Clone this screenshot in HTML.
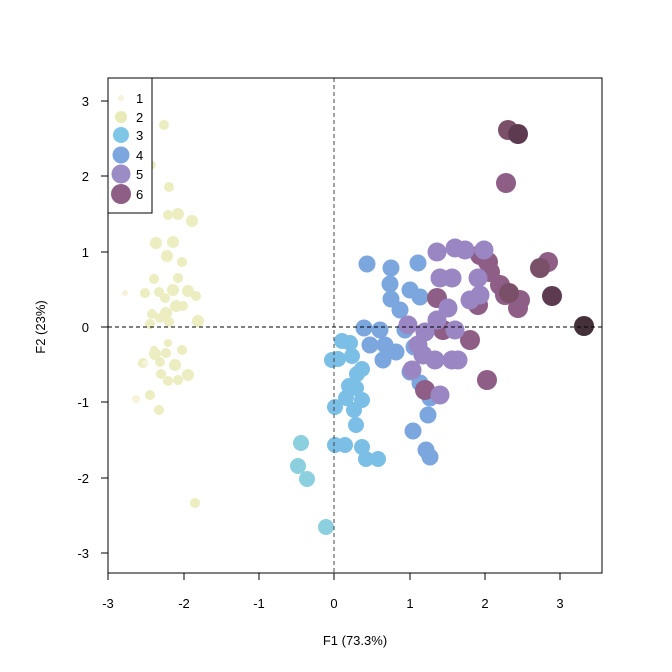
<!DOCTYPE html>
<html><head><meta charset="utf-8"><style>body{margin:0;background:#fff}svg{display:block}text{font-family:"Liberation Sans",sans-serif;font-size:13px;fill:#000}</style></head><body>
<svg width="672" height="672" viewBox="0 0 672 672" xmlns="http://www.w3.org/2000/svg">
<rect width="672" height="672" fill="#fff"/>
<g fill="#ecedc0">
<circle cx="164" cy="125" r="5"/><circle cx="152" cy="165" r="4"/><circle cx="169" cy="187" r="5"/><circle cx="168" cy="215" r="5"/><circle cx="178" cy="214" r="6"/><circle cx="192" cy="221" r="6"/><circle cx="156" cy="243" r="6"/><circle cx="173" cy="242" r="6"/><circle cx="167" cy="256" r="6"/><circle cx="182" cy="262" r="5"/><circle cx="154" cy="279" r="5"/><circle cx="145" cy="293" r="5"/><circle cx="178" cy="278" r="5"/><circle cx="188" cy="291" r="6"/><circle cx="159" cy="292" r="5"/><circle cx="173" cy="290" r="6"/><circle cx="196" cy="296" r="5"/><circle cx="165" cy="298" r="5"/><circle cx="176" cy="306" r="6"/><circle cx="183" cy="306" r="5"/><circle cx="152" cy="314" r="5"/><circle cx="166" cy="313" r="6"/><circle cx="160" cy="318" r="5"/><circle cx="198" cy="321" r="6"/><circle cx="150" cy="324" r="5"/><circle cx="169" cy="322" r="5"/><circle cx="168" cy="343" r="4"/><circle cx="155" cy="354" r="6"/><circle cx="166" cy="353" r="5"/><circle cx="160" cy="362" r="5"/><circle cx="182" cy="350" r="5"/><circle cx="175" cy="365" r="6"/><circle cx="143" cy="363" r="5"/><circle cx="161" cy="374" r="5"/><circle cx="168" cy="381" r="5"/><circle cx="188" cy="375" r="6"/><circle cx="178" cy="380" r="5"/><circle cx="150" cy="395" r="5"/><circle cx="159" cy="410" r="5"/><circle cx="195" cy="503" r="5"/><circle cx="154" cy="350" r="4"/>
</g>
<g fill="#f6f3da"><circle cx="125" cy="293" r="3"/><circle cx="136" cy="399" r="4"/><circle cx="145" cy="363" r="3"/></g>
<g fill="#8ccfdf">
<circle cx="326" cy="527" r="8"/><circle cx="307" cy="479" r="8"/><circle cx="298" cy="466" r="8"/><circle cx="301" cy="443" r="8"/>
</g>
<g fill="#7cbfe6">
<circle cx="342" cy="341" r="8"/><circle cx="350" cy="343" r="8"/><circle cx="338" cy="359" r="8"/><circle cx="352" cy="356" r="8"/><circle cx="332" cy="360" r="8"/><circle cx="357" cy="374" r="8"/><circle cx="362" cy="369" r="8"/><circle cx="349" cy="386" r="8"/><circle cx="346" cy="398" r="8"/><circle cx="356" cy="388" r="8"/><circle cx="335" cy="407" r="8"/><circle cx="354" cy="410" r="8"/><circle cx="362" cy="400" r="8"/><circle cx="356" cy="425" r="8"/><circle cx="335" cy="445" r="8"/><circle cx="345" cy="445" r="8"/><circle cx="362" cy="447" r="8"/><circle cx="366" cy="459" r="8"/><circle cx="378" cy="459" r="8"/>
</g>
<g fill="#7ba6de">
<circle cx="367" cy="264" r="8.5"/><circle cx="391" cy="268" r="8.5"/><circle cx="418" cy="263" r="8.5"/><circle cx="390" cy="284" r="8.5"/><circle cx="410" cy="290" r="8.5"/><circle cx="391" cy="299" r="8.5"/><circle cx="420" cy="297" r="8.5"/><circle cx="400" cy="310" r="8.5"/><circle cx="380" cy="330" r="8.5"/><circle cx="405" cy="330" r="8.5"/><circle cx="370" cy="345" r="8.5"/><circle cx="385" cy="345" r="8.5"/><circle cx="383" cy="360" r="8.5"/><circle cx="414" cy="347" r="8.5"/><circle cx="396" cy="352" r="8.5"/><circle cx="410" cy="372" r="8.5"/><circle cx="420" cy="383" r="8.5"/><circle cx="430" cy="398" r="8.5"/><circle cx="428" cy="415" r="8.5"/><circle cx="413" cy="431" r="8.5"/><circle cx="426" cy="450" r="8.5"/><circle cx="430" cy="457" r="8.5"/><circle cx="364" cy="328" r="8.5"/>
</g>
<g fill="#8e5e86">
<circle cx="506" cy="183" r="10"/><circle cx="548" cy="262" r="10"/><circle cx="480" cy="255" r="10"/><circle cx="488" cy="262" r="10"/><circle cx="490" cy="272" r="10"/><circle cx="500" cy="285" r="10"/><circle cx="478" cy="305" r="10"/><circle cx="505" cy="295" r="10"/><circle cx="520" cy="300" r="10"/><circle cx="487" cy="380" r="10"/><circle cx="425" cy="390" r="10"/><circle cx="470" cy="340" r="10"/><circle cx="443" cy="330" r="10"/><circle cx="518" cy="308" r="10"/><circle cx="437" cy="298" r="10"/>
</g>
<g fill="#9b86c4">
<circle cx="437" cy="252" r="9.5"/><circle cx="455" cy="248" r="9.5"/><circle cx="465" cy="250" r="9.5"/><circle cx="440" cy="278" r="9.5"/><circle cx="452" cy="278" r="9.5"/><circle cx="448" cy="308" r="9.5"/><circle cx="470" cy="300" r="9.5"/><circle cx="455" cy="330" r="9.5"/><circle cx="425" cy="332" r="9.5"/><circle cx="418" cy="345" r="9.5"/><circle cx="408" cy="325" r="9.5"/><circle cx="423" cy="355" r="9.5"/><circle cx="435" cy="360" r="9.5"/><circle cx="452" cy="360" r="9.5"/><circle cx="412" cy="370" r="9.5"/><circle cx="440" cy="395" r="9.5"/><circle cx="458" cy="360" r="9.5"/><circle cx="478" cy="278" r="9.5"/><circle cx="480" cy="295" r="9.5"/><circle cx="437" cy="320" r="9.5"/><circle cx="484" cy="250" r="9.5"/>
</g>
<g fill="#7a5068">
<circle cx="508" cy="130" r="10"/><circle cx="540" cy="268" r="10"/><circle cx="509" cy="293" r="10"/>
</g>
<g fill="#5e3a50"><circle cx="518" cy="134" r="10"/><circle cx="552" cy="296" r="10"/></g>
<circle cx="584" cy="326" r="10" fill="#443038"/>
<line x1="334" y1="78" x2="334" y2="573" stroke="#444" stroke-dasharray="4,3"/>
<line x1="108" y1="327" x2="602" y2="327" stroke="#000" stroke-dasharray="4,3"/>
<rect x="108" y="78" width="494" height="495" fill="none" stroke="#000"/>
<g stroke="#000">
<line x1="108" y1="573" x2="108" y2="580"/><line x1="184" y1="573" x2="184" y2="580"/><line x1="259" y1="573" x2="259" y2="580"/><line x1="334" y1="573" x2="334" y2="580"/><line x1="410" y1="573" x2="410" y2="580"/><line x1="485" y1="573" x2="485" y2="580"/><line x1="560" y1="573" x2="560" y2="580"/>
<line x1="101" y1="101" x2="108" y2="101"/><line x1="101" y1="176" x2="108" y2="176"/><line x1="101" y1="252" x2="108" y2="252"/><line x1="101" y1="327" x2="108" y2="327"/><line x1="101" y1="402" x2="108" y2="402"/><line x1="101" y1="478" x2="108" y2="478"/><line x1="101" y1="553" x2="108" y2="553"/>
</g>
<g text-anchor="middle">
<text x="108" y="608">-3</text><text x="184" y="608">-2</text><text x="259" y="608">-1</text><text x="334" y="608">0</text><text x="410" y="608">1</text><text x="485" y="608">2</text><text x="560" y="608">3</text>
<text x="355" y="645">F1 (73.3%)</text>
<text transform="translate(45,327) rotate(-90)">F2 (23%)</text>
</g>
<g text-anchor="end">
<text x="89" y="106">3</text><text x="89" y="181">2</text><text x="89" y="257">1</text><text x="89" y="332">0</text><text x="89" y="407">-1</text><text x="89" y="483">-2</text><text x="89" y="558">-3</text>
</g>
<rect x="108" y="78" width="44" height="135" fill="#fff" stroke="#000"/>
<circle cx="121" cy="98" r="3" fill="#f6f3da"/><circle cx="121" cy="117" r="6" fill="#e8eab8"/><circle cx="121" cy="135" r="8" fill="#7dc6e6"/><circle cx="121" cy="155" r="8.5" fill="#7ba6de"/><circle cx="121" cy="174" r="9.5" fill="#9b8cc6"/><circle cx="121" cy="194" r="10" fill="#8e5e86"/>
<text x="136" y="103">1</text><text x="136" y="122">2</text><text x="136" y="140">3</text><text x="136" y="160">4</text><text x="136" y="179">5</text><text x="136" y="199">6</text>
</svg>
</body></html>
